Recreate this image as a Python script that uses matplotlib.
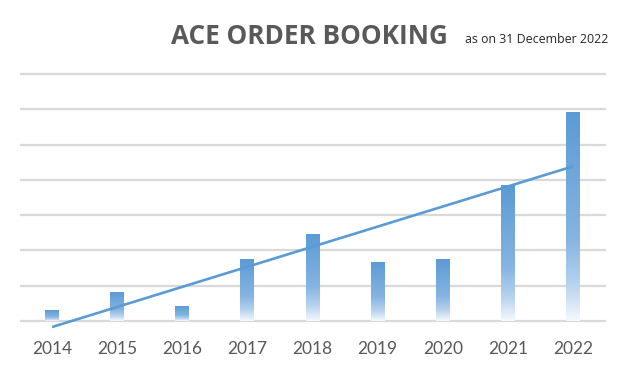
import numpy as np
from matplotlib import pyplot as plt
from matplotlib.colors import LinearSegmentedColormap

# data (in units of one gridline step)
years = ["2014", "2015", "2016", "2017", "2018", "2019", "2020", "2021", "2022"]
orders = [0.31, 0.81, 0.42, 1.75, 2.46, 1.68, 1.75, 3.85, 5.92]
grid_levels = [0, 1, 2, 3, 4, 5, 6, 7]

blue = "#5B9BD5"
grey_text = "#595959"

W, H = 625, 377
fig = plt.figure(figsize=(W / 100, H / 100), dpi=100)

# axes placed by pixels: gridline 0 at y=321, gridline 7 at y=74
px_unit = (321 - 74) / 7
y_lo, y_hi = -0.3, 7.1
top_px = 321 - y_hi * px_unit
bot_px = 321 - y_lo * px_unit
left_px, right_px = 19.5, 605.5
ax = fig.add_axes([left_px / W, 1 - bot_px / H, (right_px - left_px) / W, (bot_px - top_px) / H])

x = np.arange(len(years))

for g in grid_levels:
    ax.axhline(g, color="#D9D9D9", lw=1.6, zorder=1)

# bars with a top-to-bottom gradient fading to white
cmap = LinearSegmentedColormap.from_list(
    "fade", [(0.0, "#F5F9FD"), (0.18, "#B5D2EE"), (0.4, "#85B4E1"), (1.0, blue)])
grad = np.linspace(0, 1, 256).reshape(-1, 1)
bars = ax.bar(x, orders, width=0.215, color="none", zorder=2)
for b in bars:
    bx, by = b.get_x(), b.get_y()
    im = ax.imshow(grad, cmap=cmap, origin="lower", aspect="auto", zorder=2,
                   extent=[bx, bx + b.get_width(), by, by + b.get_height()])
    im.set_clip_path(b)

# linear trendline
k, c = np.polyfit(x, orders, 1)
ax.plot(x, k * x + c, color=blue, lw=1.9, zorder=3, solid_capstyle="butt")

ax.set_xlim(-0.5, len(years) - 0.5)
ax.set_ylim(y_lo, y_hi)
ax.set_xticks(x)
ax.set_xticklabels(years, fontsize=12.5, color=grey_text, family="Lato")
ax.tick_params(axis="x", length=0, pad=6.5)
ax.set_yticks([])
for s in ax.spines.values():
    s.set_visible(False)

fig.text(171 / W, 1 - 44 / H, "ACE ORDER BOOKING", fontsize=18.8, fontweight="bold",
         color=grey_text, family="Open Sans", va="baseline", ha="left")
fig.text(465 / W, 1 - 43 / H, "as on 31 December 2022", fontsize=8.9, color="#262626",
         family="Open Sans", va="baseline", ha="left")

fig.savefig("out.png", dpi=100)
